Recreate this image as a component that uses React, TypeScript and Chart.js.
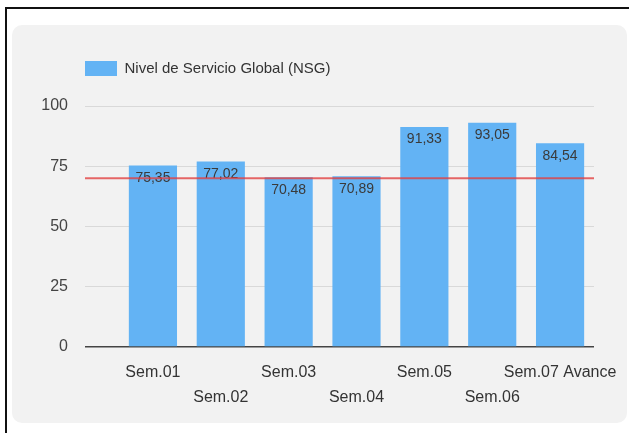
import React, { useEffect, useRef } from "react";
import { Chart, registerables } from "chart.js";

Chart.register(...registerables);

const categories = ["Sem.01", "Sem.02", "Sem.03", "Sem.04", "Sem.05", "Sem.06", "Sem.07 Avance"];
const nsgValues = [75.35, 77.02, 70.48, 70.89, 91.33, 93.05, 84.54];
const seriesName = "Nivel de Servicio Global (NSG)";
const targetValue = 70;
const yTicks = [0, 25, 50, 75, 100];

const FONT = "'Liberation Sans', Arial, sans-serif";
const BAR_COLOR = "#63b3f4";

const fmt = (v: number) => v.toFixed(2).replace(".", ",");

export default function App() {
  const ref = useRef<HTMLCanvasElement | null>(null);

  useEffect(() => {
    if (!ref.current) return;

    const extraLeft = 34;

    const adjustPlugin = {
      id: "adjust",
      afterLayout(chart: any) {
        if (chart.legend) {
          chart.legend.top = 26;
          chart.legend.left = 63;
        }
      },
      afterDatasetsDraw(chart: any) {
        const { ctx, chartArea, scales } = chart;
        const meta = chart.getDatasetMeta(0);
        ctx.save();
        ctx.font = `14px ${FONT}`;
        ctx.fillStyle = "#3a3a3a";
        ctx.textAlign = "center";
        ctx.textBaseline = "middle";
        meta.data.forEach((el: any, i: number) => {
          ctx.fillText(fmt(nsgValues[i]), el.x, el.y + 12.5);
        });
        const y = scales.y.getPixelForValue(targetValue);
        ctx.strokeStyle = "rgba(226,62,62,0.78)";
        ctx.lineWidth = 2;
        ctx.beginPath();
        ctx.moveTo(chartArea.left - extraLeft, y);
        ctx.lineTo(chartArea.right, y);
        ctx.stroke();
        ctx.restore();
      },
    };

    const chart = new Chart(ref.current, {
      type: "bar",
      data: {
        labels: categories.map((c, i) => (i % 2 === 0 ? [c] : ["", c])),
        datasets: [
          {
            label: seriesName,
            data: nsgValues,
            backgroundColor: BAR_COLOR,
            borderWidth: 0,
            categoryPercentage: 1,
            barPercentage: 0.71,
          },
        ],
      },
      options: {
        animation: false,
        responsive: false,
        maintainAspectRatio: false,
        layout: { padding: { top: 46, left: 0, right: 33, bottom: 0 } },
        plugins: {
          legend: {
            display: true,
            position: "top",
            align: "start",
            labels: {
              boxWidth: 32,
              boxHeight: 15,
              padding: 10,
              color: "#333333",
              font: { family: FONT, size: 15 },
            },
          },
          tooltip: { enabled: false },
        },
        scales: {
          x: {
            grid: { display: false },
            border: { display: false },
            ticks: {
              autoSkip: false,
              maxRotation: 0,
              minRotation: 0,
              padding: 5,
              color: "#333333",
              font: { family: FONT, size: 16, lineHeight: 25 / 16 },
            },
            afterFit(scale: any) {
              scale.height = 76;
            },
          },
          y: {
            min: 0,
            max: 100,
            border: { display: false },
            grid: {
              drawTicks: true,
              tickLength: extraLeft,
              color: (c: any) => (c.tick && c.tick.value === 0 ? "#444444" : "#d9d9d9"),
              lineWidth: (c: any) => (c.tick && c.tick.value === 0 ? 1.5 : 1),
            },
            afterBuildTicks(scale: any) {
              scale.ticks = yTicks.map((v) => ({ value: v }));
            },
            ticks: {
              padding: 17,
              color: "#444444",
              font: { family: FONT, size: 16 },
            },
            afterFit(scale: any) {
              scale.width = 107;
            },
          },
        },
      },
      plugins: [adjustPlugin],
    });

    return () => chart.destroy();
  }, []);

  return (
    <div
      style={{
        position: "fixed",
        left: 0,
        top: 0,
        width: 629,
        height: 433,
        background: "#ffffff",
        overflow: "hidden",
      }}
    >
      <div style={{ position: "absolute", left: 5, top: 7, width: 2, height: 426, background: "#111" }} />
      <div style={{ position: "absolute", left: 5, top: 7, width: 624, height: 2, background: "#111" }} />
      <div
        style={{
          position: "absolute",
          left: 12,
          top: 25,
          width: 615,
          height: 398,
          background: "#f2f2f2",
          borderRadius: 10,
        }}
      >
        <canvas ref={ref} width={615} height={398} style={{ display: "block" }} />
      </div>
    </div>
  );
}
